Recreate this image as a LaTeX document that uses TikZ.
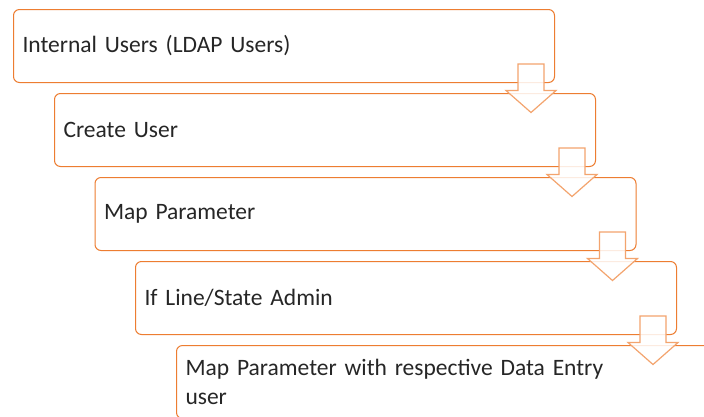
\documentclass[tikz,border=0pt]{standalone}
\usepackage{fontspec}
\setmainfont{Carlito}
\usetikzlibrary{calc}
\definecolor{boxorange}{HTML}{ED7D31}
\definecolor{arroworange}{HTML}{F3A46E}
\tikzset{
  stepbox/.style={draw=boxorange, line width=1pt, fill=white, rounded corners=6pt,
    rectangle, anchor=north west, minimum width=541pt, minimum height=73pt,
    text width=523pt, inner xsep=9pt, align=left, font=\fontsize{23.5}{28.5}\selectfont,
    text=black!85},
  blockarrow/.style={draw=arroworange, line width=1.2pt, fill=white, fill opacity=0.85, line join=miter}
}
\newcommand{\downarr}[1]{%
  \draw[blockarrow]
    ($(#1.south east)+(-37,-19)$) -- ($(#1.south east)+(-11,-19)$) --
    ($(#1.south east)+(-11,7.5)$) -- ($(#1.south east)+(1,7.5)$) --
    ($(#1.south east)+(-24,29.5)$) -- ($(#1.south east)+(-49,7.5)$) --
    ($(#1.south east)+(-37,7.5)$) -- cycle;}
\begin{document}
\begin{tikzpicture}[x=1pt,y=-1pt]
\useasboundingbox (0,0) rectangle (704,416);
\fill[white] (0,0) rectangle (704,416);
\node[stepbox] (b1) at (13,9) {Internal Users (LDAP Users)};
\node[stepbox] (b2) at (54,93) {Create User};
\node[stepbox] (b3) at (94.5,177) {Map Parameter};
\node[stepbox] (b4) at (135,261) {If Line/State Admin};
\node[stepbox] (b5) at (176,345) {Map Parameter with respective Data Entry\\user};
\downarr{b1}
\downarr{b2}
\downarr{b3}
\downarr{b4}
\end{tikzpicture}
\end{document}
